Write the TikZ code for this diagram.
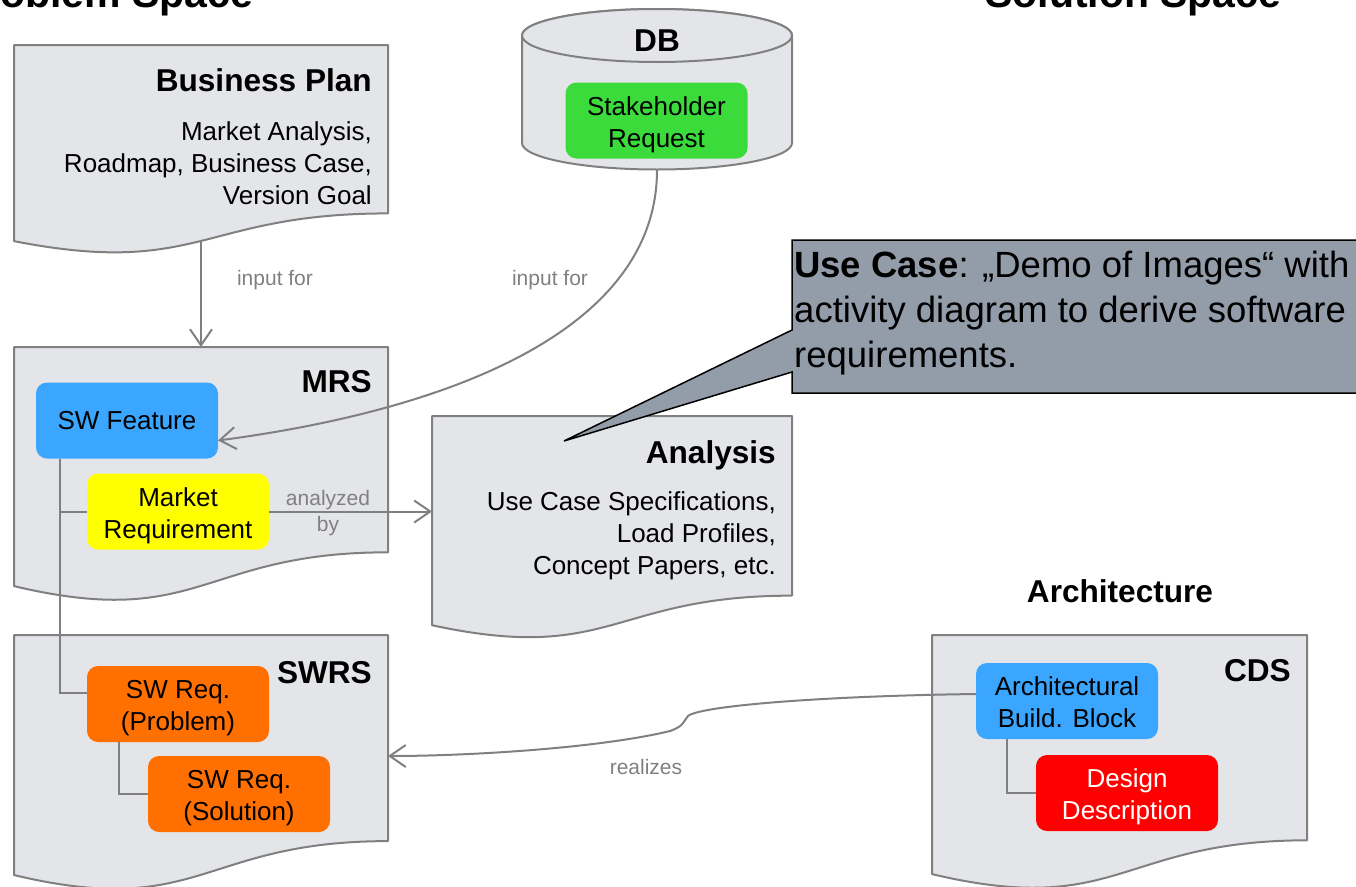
\documentclass[tikz,border=0pt]{standalone}
\usepackage{fontspec}
\setmainfont{Liberation Sans}
\usetikzlibrary{arrows.meta,calc}

\definecolor{docfill}{RGB}{228,229,233}
\definecolor{edge}{RGB}{128,128,128}
\definecolor{labelgray}{RGB}{128,128,128}
\definecolor{calloutfill}{RGB}{147,157,170}
\definecolor{featblue}{RGB}{58,166,255}
\definecolor{shgreen}{RGB}{58,219,58}
\definecolor{reqyellow}{RGB}{255,255,0}
\definecolor{reqorange}{RGB}{255,112,0}
\definecolor{desred}{RGB}{255,0,0}

% document outline with the wavy lower edge, drawn over an invisible frame node
\newcommand{\docshape}[1]{%
  \draw[docline] (#1.north west) -- (#1.north east)
    -- ($(#1.north east)!0.802!(#1.south east)$)
    .. controls ($(#1.north)!0.802!(#1.south)$) and ($(#1.north)!1.1075!(#1.south)$)
    .. ($(#1.north west)!0.934!(#1.south west)$) -- cycle;}

\tikzset{
  frame/.style={inner sep=0pt, outer sep=0pt, draw=none},
  docline/.style={draw=edge, fill=docfill, line width=2pt, line join=round},
  item/.style={rounded corners=11pt, inner sep=0pt, outer sep=0pt, align=center,
    font=\fontsize{26}{32}\selectfont, minimum width=182pt, minimum height=76pt},
  item2/.style={item, text height=53.5pt, text depth=0pt},
  title/.style={font=\fontsize{31.6}{38}\selectfont\bfseries, inner sep=0pt},
  bigtitle/.style={font=\fontsize{41}{48}\selectfont\bfseries, inner sep=0pt},
  body/.style={font=\fontsize{26}{32}\selectfont, inner sep=0pt, align=right},
  lab/.style={font=\fontsize{21}{26}\selectfont, text=labelgray, inner sep=0pt, align=center},
  link/.style={draw=edge, line width=2pt, -{Straight Barb[length=16pt,width=22pt]}},
  tree/.style={draw=edge, line width=2pt},
}

\begin{document}
\begin{tikzpicture}[x=1pt,y=-1pt]
\useasboundingbox (0,0) rectangle (1356,886);

% headings
\node[bigtitle, anchor=base west] (probT) at (-43,8) {Problem Space};
\node[bigtitle, anchor=base west] (solT) at (985,8) {Solution Space};

% documents
\node[frame, minimum width=374pt, minimum height=210pt] (bp) at (201,150) {};
\node[frame, minimum width=374pt, minimum height=256pt] (mrs) at (201,475) {};
\node[frame, minimum width=374pt, minimum height=257pt] (swrs) at (201,763.5) {};
\node[frame, minimum width=360pt, minimum height=224pt] (an) at (612,528) {};
\node[frame, minimum width=375pt, minimum height=256pt] (cds) at (1119.5,763) {};
\docshape{bp}
\docshape{mrs}
\docshape{swrs}
\docshape{an}
\docshape{cds}

% database
\node[frame, minimum width=270pt, minimum height=161pt] (db) at (657,89.5) {};
\draw[docline] (db.north west) ++(0,26.5) -- ++(0,107.5) arc (180:0:135 and 26.5)
  -- ++(0,-107.5) arc (0:-180:135 and 26.5) -- cycle;
\draw[docline] (657,35.5) ellipse [x radius=135, y radius=26.5];
\node[title, anchor=base] (dbT) at (657,51) {DB};

% document titles and contents
\node[title, anchor=base east] (bpT) at (372,91.3) {Business Plan};
\node[body, anchor=east] (bpB) at (372,163) {Market Analysis,\\Roadmap, Business Case,\\Version Goal};
\node[title, anchor=base east] (mrsT) at (372,392.3) {MRS};
\node[title, anchor=base east] (swrsT) at (372,683.3) {SWRS};
\node[title, anchor=base east] (anT) at (776,463.3) {Analysis};
\node[body, anchor=east] (anB) at (776,536) {Use Case Specifications,\\Load Profiles,\\Concept Papers, etc.};
\node[title, anchor=base east] (cdsT) at (1291,681.3) {CDS};
\node[title, anchor=base] (archT) at (1120,602.3) {Architecture};

% artefacts
\node[item2, fill=shgreen] (sh) at (656.5,120.5) {Stakeholder\\Request};
\node[item, fill=featblue] (swf) at (127,420.5) {SW Feature};
\node[item2, fill=reqyellow] (mreq) at (178,511.5) {Market\\Requirement};
\node[item2, fill=reqorange] (swp) at (178,704) {SW Req.\\(Problem)};
\node[item2, fill=reqorange] (sws) at (239,794) {SW Req.\\(Solution)};
\node[item2, fill=featblue] (arch) at (1067,701) {Architectural\\Build. Block};
\node[item2, fill=desred, text=white] (des) at (1127,793) {Design\\Description};

% hierarchy lines
\coordinate (swfroot) at ($(swf.south west)+(24,0)$);
\draw[tree] (swfroot) |- ($(swp.west)+(0,-11)$);
\draw[tree] (mreq.west) -- (mreq.west -| swfroot);
\draw[tree] ($(swp.south west)+(32,0)$) |- (sws.west);
\draw[tree] ($(arch.south west)+(31,0)$) |- (des.west);

% relations
\coordinate (bpout) at (201,241);
\draw[link] (bpout) -- (mrs.north);
\node[lab] (in1) at (275,280) {input for};

\draw[link] (db.south) .. controls (657,330) and (450,410) .. ($(swf.east)+(0,20)$);
\node[lab] (in2) at (550,280) {input for};

\draw[link] (mreq.east) -- (mreq.east -| an.west);
\node[lab] (anby) at (328,513) {analyzed\\by};

\coordinate (realtip) at ($(swrs.east)+(0,-7.5)$);
\draw[link] ($(arch.west)+(0,-7)$) .. controls (820,696) and (700,706) .. (688,716)
  .. controls (683,722) and (684,726) .. (670,731)
  .. controls (600,748) and (470,756) .. (realtip);
\node[lab] (real) at (646,767) {realizes};

% call-out
\draw[fill=calloutfill, draw=black, line width=1.5pt, line join=miter]
  (792,240) -- (1370,240) -- (1370,393) -- (792,393) -- (792,372)
  -- (564,441) -- (792,330) -- cycle;
\node[font=\fontsize{36.5}{45}\selectfont, align=left, inner sep=0pt, anchor=west] (uc) at (794,313)
  {\textbf{Use Case}: „Demo of Images“ with\\activity diagram to derive software\\requirements.};
\end{tikzpicture}
\end{document}
